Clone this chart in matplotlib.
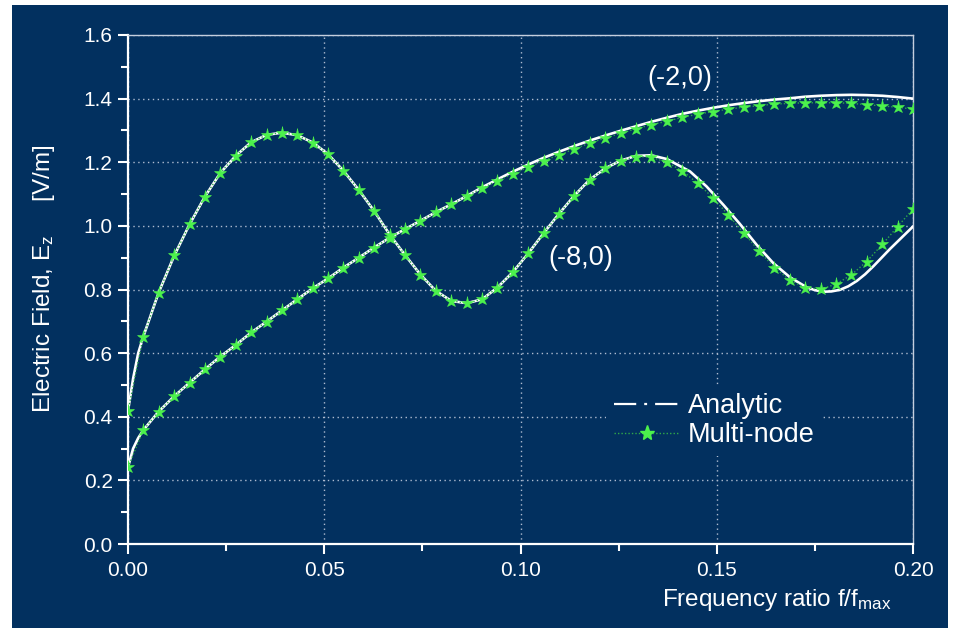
"""Electric field E_z vs frequency ratio: analytic vs multi-node, sources (-2,0) and (-8,0)."""
import matplotlib

matplotlib.use("Agg")
import matplotlib.pyplot as plt
from matplotlib.lines import Line2D
from matplotlib.patches import Rectangle
from matplotlib.ticker import MultipleLocator, FormatStrFormatter

plt.rcParams["font.family"] = ["Liberation Sans", "DejaVu Sans"]
plt.rcParams["mathtext.default"] = "regular"

NAVY = "#02305f"
GREEN = "#4cf24c"
GREEN_LINE = "#2fa84a"
GRID = "#aebbd0"

# multi-node samples (f/f_max)
F_MN = [0.0000, 0.0039, 0.0078, 0.0118, 0.0157, 0.0196, 0.0235, 0.0275, 0.0314, 0.0353,
        0.0392, 0.0431, 0.0471, 0.0510, 0.0549, 0.0588, 0.0627, 0.0667, 0.0706, 0.0745,
        0.0784, 0.0824, 0.0863, 0.0902, 0.0941, 0.0980, 0.1020, 0.1059, 0.1098, 0.1137,
        0.1176, 0.1216, 0.1255, 0.1294, 0.1333, 0.1373, 0.1412, 0.1451, 0.1490, 0.1529,
        0.1569, 0.1608, 0.1647, 0.1686, 0.1725, 0.1765, 0.1804, 0.1843, 0.1882, 0.1922,
        0.1961, 0.2000]
# source (-2,0)
EZ_MN_2 = [0.241, 0.358, 0.416, 0.465, 0.507, 0.549, 0.589, 0.626, 0.665, 0.699,
           0.734, 0.769, 0.804, 0.835, 0.869, 0.900, 0.932, 0.963, 0.990, 1.016,
           1.043, 1.068, 1.094, 1.118, 1.142, 1.163, 1.185, 1.205, 1.223, 1.242,
           1.260, 1.276, 1.291, 1.305, 1.318, 1.329, 1.341, 1.351, 1.359, 1.367,
           1.373, 1.378, 1.383, 1.385, 1.387, 1.387, 1.387, 1.385, 1.381, 1.377,
           1.373, 1.367]
# source (-8,0)
EZ_MN_8 = [0.418, 0.652, 0.790, 0.907, 1.005, 1.092, 1.166, 1.221, 1.263, 1.286,
           1.293, 1.285, 1.262, 1.225, 1.173, 1.113, 1.047, 0.972, 0.908, 0.847,
           0.796, 0.764, 0.757, 0.769, 0.806, 0.854, 0.914, 0.977, 1.038, 1.095,
           1.145, 1.181, 1.205, 1.218, 1.216, 1.200, 1.173, 1.134, 1.089, 1.035,
           0.977, 0.921, 0.869, 0.830, 0.806, 0.801, 0.817, 0.846, 0.888, 0.942,
           0.998, 1.053]

# analytic curves
F_AN_2 = [0.0, 0.0013, 0.0026] + F_MN[1:]
EZ_AN_2 = [0.241, 0.300, 0.333,
           0.358, 0.416, 0.465, 0.507, 0.549, 0.589, 0.626, 0.665, 0.699, 0.734,
           0.769, 0.804, 0.835, 0.869, 0.900, 0.932, 0.963, 0.990, 1.016, 1.043,
           1.068, 1.094, 1.121, 1.146, 1.170, 1.193, 1.214, 1.233, 1.251, 1.268,
           1.284, 1.299, 1.313, 1.327, 1.340, 1.352, 1.362, 1.371, 1.379, 1.386,
           1.392, 1.397, 1.401, 1.406, 1.409, 1.411, 1.412, 1.411, 1.409, 1.405,
           1.400]
F_AN_8 = [0.0, 0.0013, 0.0026] + F_MN[1:36] + [
    0.1432, 0.1474, 0.1517, 0.1559, 0.1602, 0.1644, 0.1687, 0.1729, 0.1750,
    0.1771, 0.1792, 0.1814, 0.1835, 0.1857, 0.1878, 0.1899, 0.1941, 0.2000]
EZ_AN_8 = [0.418, 0.520, 0.600,
           0.652, 0.790, 0.907, 1.005, 1.092, 1.166, 1.221, 1.263, 1.286, 1.293,
           1.285, 1.262, 1.225, 1.173, 1.113, 1.047, 0.972, 0.908, 0.847, 0.796,
           0.764, 0.757, 0.769, 0.806, 0.854, 0.914, 0.977, 1.038, 1.095, 1.145,
           1.181, 1.205, 1.220, 1.222, 1.210,
           1.171, 1.124, 1.066, 1.006, 0.940, 0.883, 0.838, 0.807, 0.798,
           0.793, 0.794, 0.799, 0.810, 0.827, 0.848, 0.873, 0.927, 0.998]

LABELS = [("(-2,0)", 0.1405, 1.465), ("(-8,0)", 0.1154, 0.899)]


def main() -> None:
    fig = plt.figure(figsize=(9.56, 6.34), dpi=100, facecolor="white")
    bg = Rectangle((12 / 956, 6 / 634), 936 / 956, 623 / 634,
                   transform=fig.transFigure, fc=NAVY, ec="none")
    bg.set_zorder(-10)
    fig.add_artist(bg)
    ax = fig.add_axes([128 / 956, 90 / 634, 785 / 956, 509 / 634])
    ax.set_facecolor(NAVY)
    ax.set_zorder(1)

    for f, ez in ((F_AN_2, EZ_AN_2), (F_AN_8, EZ_AN_8)):
        ax.plot(f, ez, color="white", lw=1.9, zorder=3)
    for ez in (EZ_MN_2, EZ_MN_8):
        ax.plot(F_MN, ez, color=GREEN_LINE, lw=1.0, ls=(0, (1, 1.5)), zorder=4)
        ax.plot(F_MN, ez, ls="none", marker="*", ms=9.5, color=GREEN,
                mec=GREEN, mew=0.4, zorder=5)

    for txt, x, y in LABELS:
        ax.text(x, y, txt, color="white", fontsize=19.5, ha="center", va="center", zorder=6)

    ax.set_xlim(0, 0.2)
    ax.set_ylim(0, 1.6)
    ax.xaxis.set_major_locator(MultipleLocator(0.05))
    ax.xaxis.set_minor_locator(MultipleLocator(0.025))
    ax.yaxis.set_major_locator(MultipleLocator(0.2))
    ax.yaxis.set_minor_locator(MultipleLocator(0.1))
    ax.xaxis.set_major_formatter(FormatStrFormatter("%.2f"))
    ax.yaxis.set_major_formatter(FormatStrFormatter("%.1f"))
    ax.grid(True, which="major", color=GRID, lw=1.0, ls=(0, (1, 2.5)), zorder=1)
    ax.tick_params(which="both", direction="out", colors="white", width=1.5,
                   labelsize=15, top=False, right=False)
    ax.tick_params(which="major", length=7)
    ax.tick_params(which="minor", length=5)
    ax.tick_params(axis="x", pad=5)
    ax.tick_params(axis="y", pad=4)
    for side in ("left", "bottom"):
        ax.spines[side].set_color("white")
        ax.spines[side].set_linewidth(1.6)
    for side in ("top", "right"):
        ax.spines[side].set_color("#c4cede")
        ax.spines[side].set_linewidth(1.0)

    ax.set_xlabel(r"Frequency ratio f/f$_{max}$", color="white", fontsize=17.5)
    ax.xaxis.set_label_coords(0.827, -0.085)
    ax.set_ylabel(r"Electric Field, E$_z$     [V/m]", color="white", fontsize=17.5)
    ax.yaxis.set_label_coords(-0.09, 0.52)

    handles = [
        Line2D([], [], color="white", lw=1.6, ls=(0, (10, 3.6, 1.3, 3.6))),
        Line2D([], [], color=GREEN_LINE, lw=1.0, ls=(0, (1, 1.5)), marker="*",
               ms=11, mfc=GREEN, mec=GREEN),
    ]
    leg = ax.legend(handles, ["Analytic", "Multi-node"], loc="center left",
                    bbox_to_anchor=(0.592, 0.242), fontsize=19.5, frameon=True,
                    facecolor=NAVY, edgecolor="none", framealpha=1.0,
                    handlelength=2.4, handletextpad=0.3, labelspacing=0.1,
                    borderpad=0.3, numpoints=1)
    leg.set_zorder(7)
    for t in leg.get_texts():
        t.set_color("white")

    fig.savefig("out.png", dpi=100, facecolor=fig.get_facecolor())
    plt.close(fig)


if __name__ == "__main__":
    main()
